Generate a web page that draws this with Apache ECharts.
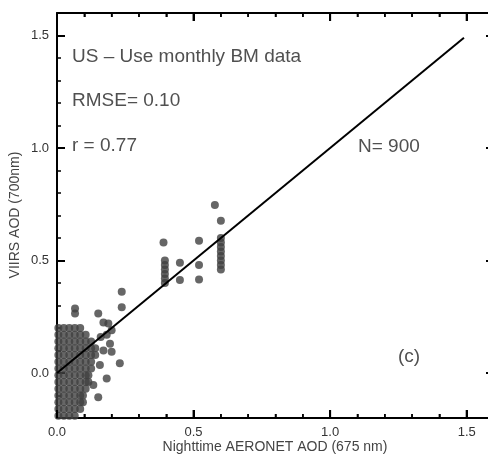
<!DOCTYPE html>
<html>
<head>
<meta charset="utf-8">
<script src="https://cdn.jsdelivr.net/npm/echarts@6/dist/echarts.min.js"></script>
<style>
html,body{margin:0;padding:0;background:#fff;}
#c{width:488px;height:456px;background:#fff;}
</style>
</head>
<body>
<div id="c"></div>
<script>
// ---- data ----
var xTicks = [0, 0.5, 1.0, 1.5];
var yTicks = [0, 0.5, 1.0, 1.5];
var xMinorTicks = [0.1, 0.2, 0.3, 0.4, 0.6, 0.7, 0.8, 0.9, 1.1, 1.2, 1.3, 1.4];
var xTitle = 'Nighttime AERONET AOD (675 nm)';
var yTitle = 'VIIRS AOD (700nm)';
var annot = ['US \u2013 Use monthly BM data', 'RMSE= 0.10', 'r = 0.77', 'N= 900', '(c)'];
var fitLine = [[0, 0.0], [1.49, 1.49]];

// dense cluster near the origin
var clusterPts = [
  [0.005,0.20],[0.025,0.20],[0.045,0.20],[0.065,0.20],[0.085,0.20],
  [0.005,0.17],[0.025,0.17],[0.045,0.17],[0.065,0.17],[0.085,0.17],[0.105,0.17],
  [0.005,0.14],[0.025,0.14],[0.045,0.14],[0.065,0.14],[0.085,0.14],[0.105,0.14],[0.125,0.14],
  [0.005,0.11],[0.025,0.11],[0.045,0.11],[0.065,0.11],[0.085,0.11],[0.105,0.11],[0.125,0.11],[0.14,0.11],
  [0.005,0.08],[0.025,0.08],[0.045,0.08],[0.065,0.08],[0.085,0.08],[0.105,0.08],[0.125,0.08],[0.14,0.08],
  [0.005,0.05],[0.025,0.05],[0.045,0.05],[0.065,0.05],[0.085,0.05],[0.105,0.05],[0.125,0.05],
  [0.005,0.02],[0.025,0.02],[0.045,0.02],[0.065,0.02],[0.085,0.02],[0.105,0.02],[0.125,0.02],
  [0.005,-0.01],[0.025,-0.01],[0.045,-0.01],[0.065,-0.01],[0.085,-0.01],[0.105,-0.01],[0.115,-0.01],
  [0.005,-0.04],[0.025,-0.04],[0.045,-0.04],[0.065,-0.04],[0.085,-0.04],[0.105,-0.04],[0.115,-0.04],
  [0.005,-0.07],[0.025,-0.07],[0.045,-0.07],[0.065,-0.07],[0.085,-0.07],[0.105,-0.07],
  [0.005,-0.10],[0.025,-0.10],[0.045,-0.10],[0.065,-0.10],[0.085,-0.10],[0.095,-0.10],
  [0.005,-0.13],[0.025,-0.13],[0.045,-0.13],[0.065,-0.13],[0.085,-0.13],[0.095,-0.13],
  [0.005,-0.16],[0.025,-0.16],[0.045,-0.16],[0.065,-0.16],[0.085,-0.16],
  [0.005,-0.19],[0.025,-0.19],[0.045,-0.19],[0.065,-0.19]
];
// scattered points around the cluster
var edgePts = [
  [0.066,0.287],[0.066,0.265],[0.151,0.265],[0.237,0.361],[0.237,0.292],
  [0.17,0.225],[0.188,0.22],[0.2,0.19],[0.182,0.17],[0.16,0.16],[0.194,0.13],
  [0.2,0.095],[0.17,0.10],[0.23,0.043],[0.157,0.036],[0.182,-0.024],
  [0.151,-0.108],[0.133,-0.053]
];
// high-AOD points
var highPts = [
  [0.39,0.58],[0.395,0.50],[0.395,0.48],[0.395,0.46],[0.395,0.44],[0.395,0.42],[0.395,0.40],
  [0.45,0.49],[0.45,0.413],
  [0.52,0.588],[0.52,0.48],[0.52,0.416],
  [0.578,0.747],[0.6,0.677],
  [0.6,0.60],[0.6,0.58],[0.6,0.56],[0.6,0.54],[0.6,0.52],[0.6,0.50],[0.6,0.48],[0.6,0.46]
];

// ---- chart ----
var FONT = '"Liberation Sans", Arial, Helvetica, sans-serif';
var X_MAX = 1.6, Y_MIN = -0.2, Y_MAX = 1.6;
var chart = echarts.init(document.getElementById('c'), null, {renderer: 'canvas'});

function fmt(v) { return (+v).toFixed(1); }

function mkAxis(dim, pos, gridIndex, major, withLabel) {
  var isX = dim === 'x';
  var a = {
    type: 'value',
    gridIndex: gridIndex,
    position: pos,
    min: isX ? 0 : Y_MIN,
    max: isX ? X_MAX : Y_MAX,
    interval: 0.1,
    splitLine: {show: false},
    axisLine: {show: true, onZero: false, lineStyle: {color: major ? 'rgba(0,0,0,0)' : '#000', width: 2}},
    axisTick: {
      show: true, inside: true, length: major ? 8 : 4,
      lineStyle: {color: '#000', width: major ? 2 : 1.5}
    },
    axisLabel: {show: false}
  };
  if (major) a.axisTick.customValues = isX ? xTicks : yTicks;
  if (withLabel) {
    a.axisLabel = {
      show: true,
      customValues: isX ? xTicks : yTicks,
      formatter: fmt,
      color: '#333',
      fontSize: 13
    };
  }
  return a;
}

var gridRect = {left: 57, top: 13, width: 437, height: 405, outerBoundsMode: 'none', containLabel: false};

function txt(s, x, y, size) {
  return {type: 'text', x: x, y: y, silent: true, z: 10,
    style: {text: s, font: size + 'px ' + FONT, fill: '#505050', verticalAlign: 'middle'}};
}

var textGraphics = [
  txt(annot[0], 72, 57, 19),
  txt(annot[1], 72, 101, 19),
  txt(annot[2], 72, 146, 19),
  txt(annot[3], 358, 147, 19),
  txt(annot[4], 398, 357, 19),
  {type: 'text', x: 275, y: 447, silent: true,
    style: {text: xTitle, font: '14px ' + FONT, fill: '#444', align: 'center', verticalAlign: 'middle'}},
  {type: 'text', x: 15, y: 215, rotation: Math.PI / 2, silent: true,
    style: {text: yTitle, font: '14px ' + FONT, fill: '#444', align: 'center', verticalAlign: 'middle'}}
];

var option = {
  animation: false,
  grid: [Object.assign({}, gridRect), Object.assign({}, gridRect)],
  xAxis: [
    mkAxis('x', 'bottom', 0, false, true),
    mkAxis('x', 'top', 0, false, false),
    mkAxis('x', 'bottom', 1, true, false),
    mkAxis('x', 'top', 1, true, false)
  ],
  yAxis: [
    mkAxis('y', 'left', 0, false, true),
    mkAxis('y', 'right', 0, false, false),
    mkAxis('y', 'left', 1, true, false),
    mkAxis('y', 'right', 1, true, false)
  ],
  series: [
    {type: 'scatter', xAxisIndex: 0, yAxisIndex: 0, data: clusterPts, symbolSize: 8, itemStyle: {color: '#404040'}, silent: true},
    {type: 'scatter', xAxisIndex: 0, yAxisIndex: 0, data: edgePts, symbolSize: 8, itemStyle: {color: '#404040'}, silent: true},
    {type: 'scatter', xAxisIndex: 0, yAxisIndex: 0, data: highPts, symbolSize: 8, itemStyle: {color: '#404040'}, silent: true},
    {type: 'line', xAxisIndex: 0, yAxisIndex: 0, data: fitLine, symbol: 'none',
      lineStyle: {color: '#000', width: 2}, silent: true, z: 5}
  ],
  graphic: textGraphics
};
chart.setOption(option);

// Tick marks on the top and bottom frame, placed through the x/y axis scales
var tickGraphics = [];
var yB = chart.convertToPixel({yAxisIndex: 0}, Y_MIN);
var yT = chart.convertToPixel({yAxisIndex: 0}, Y_MAX);
function addTicks(vals, len, w) {
  vals.forEach(function (v) {
    var px = chart.convertToPixel({xAxisIndex: 0}, v);
    tickGraphics.push({type: 'line', silent: true, z: 8,
      shape: {x1: px, y1: yB, x2: px, y2: yB - len},
      style: {stroke: '#000', lineWidth: w}});
    tickGraphics.push({type: 'line', silent: true, z: 8,
      shape: {x1: px, y1: yT, x2: px, y2: yT + len},
      style: {stroke: '#000', lineWidth: w}});
  });
}
addTicks(xMinorTicks, 4, 1.5);
addTicks(xTicks, 8, 2);
chart.setOption({graphic: textGraphics.concat(tickGraphics)});
</script>
</body>
</html>
